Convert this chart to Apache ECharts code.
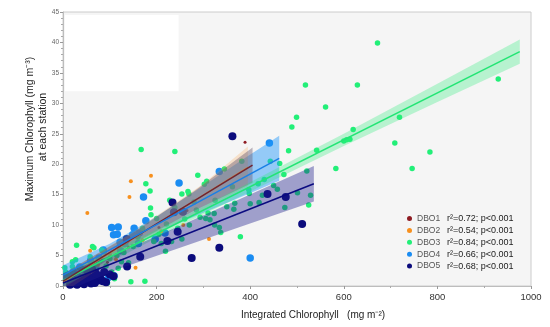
<!DOCTYPE html>
<html>
<head>
<meta charset="utf-8">
<script src="https://cdn.jsdelivr.net/npm/echarts@6/dist/echarts.min.js"></script>
<style>html,body{margin:0;padding:0;background:#fff}#c{width:550px;height:327px}</style>
</head>
<body>
<div id="c"></div>
<script>
// ---- data ----
const groups = ['DBO1', 'DBO2', 'DBO3', 'DBO4', 'DBO5'];
const r2 = ['0.72', '0.54', '0.84', '0.66', '0.68'];
const xTicks = [0, 200, 400, 600, 800, 1000];

const dbo1Pts = [[389,23.6],[55,2.2],[95,3.9],[140,6.4],[205,9.6],[265,12.4]];
const dbo2Pts = [[145,17.2],[188,18.1],[142,14.6],[52,12.0],[58,5.8],[155,3.0],[312,7.7],[257,10.0],[113,4.4],[118,6.4],[40,2.5],[75,3.5],[100,5.2],[210,9.0],[170,7.5]];
const dbo3Pts = [[672,39.9],[518,33.0],[629,33.0],[561,29.4],[499,27.7],[489,26.1],[930,34.0],[719,27.7],[620,25.7],[600,23.8],[606,24.0],[613,24.1],[482,22.2],[542,22.3],[709,23.5],[784,22.0],
 [583,19.3],[746,19.3],[458,15.9],[501,15.3],[529,14.9],[521,18.9],[472,18.3],[525,13.3],[474,12.9],[463,20.1],[443,20.5],[382,20.5],
 [288,18.2],[345,19.2],[302,16.7],[267,15.5],[269,15.1],[254,15.1],[362,16.3],[397,15.8],[426,14.9],[419,13.7],[365,12.6],[293,11.3],[305,11.1],[314,10.9],[323,11.9],[324,10.0],[334,9.6],[337,8.8],[379,8.1],[254,7.7],
 [239,22.1],[167,22.4],[177,16.8],[186,15.6],[307,17.2],[187,12.8],[188,11.7],[228,14.1],[239,12.9],[280,13.8],[325,14.1],[219,5.7],[232,7.3],[194,7.3],[175,0.8],[145,0.7],[417,16.8],[398,15.2],[367,13.6],[221,10.2],[200,11.1],[118,2.9],[104,2.3],[92,3.3],
 [29,6.7],[66,6.3],[83,5.9],[27,4.3],[20,3.2],[58,4.8],[63,6.5],[88,5.6],[81,4.3],[115,5.0],[4,3.0],[6,2.3],[20,4.0],
 [40,1.5],[50,2.8],[70,3.5],[100,4.5],[130,5.5],[150,6.5],[160,8.0],[140,3.8],[110,1.2],[95,0.5],[125,4.0],[170,9.5],[205,8.5],[260,11.0],[270,10.0],[285,12.5],[350,13.0],[310,12.0],[400,13.5],[430,17.5],[450,16.5],[210,7.0],[245,9.5]];
const dbo4Pts = [[441,23.5],[334,18.8],[248,16.9],[172,14.6],[177,10.7],[257,12.2],[104,9.6],[118,9.7],[108,8.4],[116,8.5],[152,9.5],[122,7.2],[132,7.0],[163,8.7],[197,7.7],[218,8.7],[86,5.9],[77,4.6],[400,4.6],[97,1.4],[109,1.7],[149,8.4],[123,5.8],[161,7.0],[59,4.2],[36,3.1],[22,2.3],[45,2.6],[30,1.8],[70,3.0],[10,1.5]];
const dbo5Pts = [[362,24.6],[234,13.7],[237,12.1],[256,12.2],[245,8.9],[223,7.4],[136,7.7],[165,4.8],[137,3.2],[275,4.6],[334,6.3],[437,15.1],[476,14.6],[511,10.2],[108,1.6],[81,1.1],
 [25,1.0],[35,0.5],[40,1.3],[48,0.8],[55,1.6],[60,0.4],[65,1.2],[70,2.1],[75,0.9],[88,2.3],[92,0.6],[100,1.9],[52,2.4],[30,0.2],[45,0.3],[58,0.9],[68,0.5],[85,0.8],[20,0.4],[15,0.2],[62,2.8],[78,1.7]];

// regression fits: x range ends and fitted y
const fit1X = [0, 405], fit1Y = [0.8, 19.84];
const fit2X = [0, 395], fit2Y = [0.6, 19.5];
const fit3X = [0, 976], fit3Y = [0.9, 38.5];
const fit4X = [0, 462], fit4Y = [1.8, 20.97];
const fit5X = [0, 536], fit5Y = [0.5, 16.79];

// confidence bands: x, lower, upper
const band1X = [0, 150, 280, 405], band1Lo = [-0.4, 6.95, 12.36, 16.94], band1Hi = [2.0, 8.75, 15.56, 22.74];
const band2X = [0, 150, 300, 395], band2Lo = [-1.1, 6.5, 12.6, 16.4], band2Hi = [1.9, 8.9, 16.8, 22.9];
const band3X = [0, 250, 600, 800, 976], band3Lo = [-0.1, 9.9, 23.0, 30.2, 36.5], band3Hi = [1.9, 11.1, 25.0, 33.2, 40.5];
const band4X = [0, 100, 200, 300, 392, 462], band4Lo = [0.2, 4.95, 8.8, 12.05, 14.97, 17.27], band4Hi = [3.4, 6.95, 11.4, 16.45, 21.17, 24.67];
const band5X = [0, 120, 250, 378, 536], band5Lo = [-1.1, 2.85, 6.3, 9.69, 13.89], band5Hi = [2.1, 5.45, 9.9, 14.29, 19.69];

// ---- styling ----
const col = { DBO1: '#8e1b22', DBO2: '#f7901e', DBO3: '#22ef78', DBO4: '#1a8cf2', DBO5: '#0b0b7c' };
const FONT = '"Liberation Sans", Arial, sans-serif';

function zip(xs, ys) { return xs.map((x, i) => [x, ys[i]]); }

function bandSeries(xs, lo, hi, fill, z) {
  return {
    type: 'custom', silent: true, z: z,
    data: [[xs[0], lo[0]]],
    renderItem: function (params, api) {
      const up = xs.map((x, i) => api.coord([x, hi[i]]));
      const dn = xs.map((x, i) => api.coord([x, lo[i]])).reverse();
      const cs = params.coordSys;
      return {
        type: 'polygon',
        shape: { points: up.concat(dn) },
        style: { fill: fill },
        clipPath: { type: 'rect', shape: { x: cs.x, y: cs.y, width: cs.width, height: cs.height } }
      };
    }
  };
}
function lineSeries(xs, ys, color, z, w) {
  return {
    type: 'line', silent: true, z: z, showSymbol: false, symbol: 'none',
    data: zip(xs, ys), lineStyle: { color: color, width: w || 1.5 }
  };
}
function scatter(name, pts, size) {
  return {
    name: name, type: 'scatter', z: 2, data: pts, symbolSize: size,
    itemStyle: { color: col[name], opacity: 1 }
  };
}

const chart = echarts.init(document.getElementById('c'), null, { renderer: 'canvas' });
const s4 = scatter('DBO4', dbo4Pts, 7.5);
s4.markArea = {
  silent: true, itemStyle: { color: '#ffffff', opacity: 1 },
  data: [[{ coord: [4, 44.5] }, { coord: [247, 32] }]]
};
chart.setOption({
  animation: false,
  backgroundColor: '#ffffff',
  textStyle: { fontFamily: FONT },
  grid: { left: 63, right: 19, top: 12, bottom: 41, show: true, backgroundColor: '#f5f5f5', borderColor: '#cccccc', borderWidth: 1 },
  xAxis: {
    type: 'value', min: 0, max: 1000, interval: 200,
    axisLine: { show: true, lineStyle: { color: '#bdbdbd' } },
    axisTick: { show: true, length: 3, lineStyle: { color: '#999' } },
    minorTick: { show: true, splitNumber: 2, length: 2, lineStyle: { color: '#aaa' } },
    splitLine: { show: false },
    axisLabel: { fontSize: 9.5, color: '#333', margin: 6, fontFamily: FONT,
      formatter: v => xTicks.indexOf(v) >= 0 ? String(v) : '' }
  },
  yAxis: {
    type: 'value', min: 0, max: 45, interval: 5,
    axisLine: { show: true, lineStyle: { color: '#bdbdbd' } },
    axisTick: { show: true, length: 3, lineStyle: { color: '#999' } },
    minorTick: { show: true, splitNumber: 5, length: 2, lineStyle: { color: '#aaa' } },
    splitLine: { show: false },
    axisLabel: { fontSize: 6.5, color: '#666', margin: 4, fontFamily: FONT }
  },
  legend: {
    data: groups, orient: 'vertical', left: 402, top: 209,
    icon: 'circle', itemWidth: 5, itemHeight: 5, itemGap: 2.9,
    formatter: function (name) { return '{a|' + name + '}{b|r²=' + r2[groups.indexOf(name)] + '; p<0.001}'; },
    textStyle: {
      fontFamily: FONT,
      rich: {
        a: { width: 30, fontSize: 8.5, color: '#555', lineHeight: 11.8, fontFamily: FONT },
        b: { fontSize: 9, color: '#222', lineHeight: 11.8, fontFamily: FONT }
      }
    }
  },
  graphic: [
    { type: 'text', x: 30, y: 129, rotation: Math.PI / 2, style: { text: 'Maximum Chlorophyll (mg m⁻³)', fontSize: 10.5, fontFamily: FONT, fill: '#222', align: 'center', verticalAlign: 'middle' } },
    { type: 'text', x: 43, y: 127, rotation: Math.PI / 2, style: { text: 'at each station', fontSize: 10.5, fontFamily: FONT, fill: '#222', align: 'center', verticalAlign: 'middle' } },
    { type: 'text', x: 313, y: 315, style: { text: 'Integrated Chlorophyll   (mg m⁻²)', fontSize: 10, fontFamily: FONT, fill: '#222', align: 'center', verticalAlign: 'middle' } }
  ],
  series: [
    s4,
    scatter('DBO3', dbo3Pts, 5.5),
    scatter('DBO1', dbo1Pts, 3),
    scatter('DBO2', dbo2Pts, 4),
    scatter('DBO5', dbo5Pts, 8),
    bandSeries(band4X, band4Lo, band4Hi, 'rgba(30,150,250,0.45)', 3),
    bandSeries(band2X, band2Lo, band2Hi, 'rgba(250,140,30,0.20)', 3),
    bandSeries(band1X, band1Lo, band1Hi, 'rgba(110,95,115,0.45)', 3),
    bandSeries(band3X, band3Lo, band3Hi, 'rgba(40,235,120,0.30)', 3),
    bandSeries(band5X, band5Lo, band5Hi, 'rgba(30,30,140,0.40)', 3),
    lineSeries(fit2X, fit2Y, '#d9822e', 4, 1.1),
    lineSeries(fit3X, fit3Y, '#22e574', 4),
    lineSeries(fit1X, fit1Y, '#6e2434', 4),
    lineSeries(fit4X, fit4Y, '#1a7fe6', 4),
    lineSeries(fit5X, fit5Y, '#0b0b80', 4)
  ]
});
</script>
</body>
</html>
